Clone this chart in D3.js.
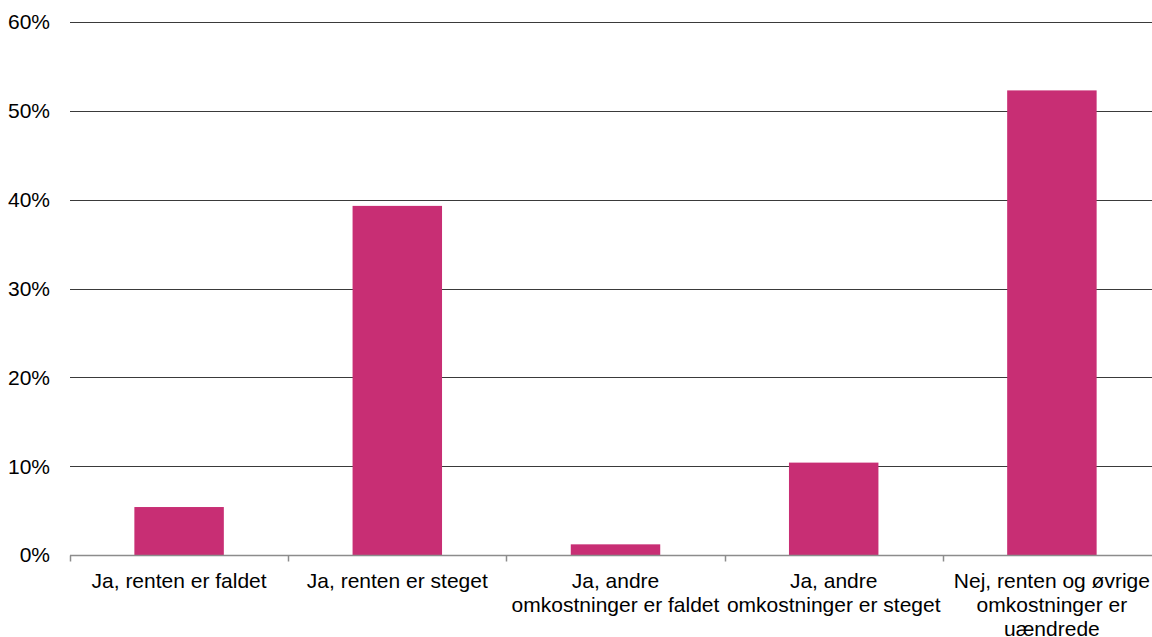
<!DOCTYPE html>
<html>
<head>
<meta charset="utf-8">
<script src="https://cdn.jsdelivr.net/npm/d3@7.9.0/dist/d3.min.js"></script>
<style>
  html, body { margin: 0; background: #fff; overflow: hidden; }
  svg { display: block; font-family: "Liberation Sans", Arial, sans-serif; overflow: hidden; }
</style>
</head>
<body>
<svg id="chart" width="1152" height="637"></svg>
<script>
// categories (label lines) and values in %
const categories = [
  ['Ja, renten er faldet'],
  ['Ja, renten er steget'],
  ['Ja, andre', 'omkostninger er faldet'],
  ['Ja, andre', 'omkostninger er steget'],
  ['Nej, renten og øvrige', 'omkostninger er', 'uændrede']
];
const values = [5.4, 39.3, 1.2, 10.4, 52.3];
const yTicks = [0, 10, 20, 30, 40, 50, 60];

const width = 1152, height = 637;
// plot area runs a little past the right edge of the picture
const plotRight = 1161;
const margin = { top: 22, bottom: 82, left: 70 };
const keys = categories.map((d, i) => i);

const svg = d3.select('#chart');

const x = d3.scaleBand()
  .domain(keys)
  .range([margin.left, plotRight])
  .paddingInner(0.59)
  .paddingOuter(0.295);

// plain bands for the category tick marks and labels
const xCat = d3.scaleBand()
  .domain(keys)
  .range([margin.left, plotRight])
  .padding(0);

const y = d3.scaleLinear()
  .domain([0, 60])
  .range([height - margin.bottom, margin.top]);

// gridlines
svg.append('g')
  .selectAll('line')
  .data(yTicks.filter(d => d > 0))
  .join('line')
  .attr('x1', margin.left)
  .attr('x2', plotRight)
  .attr('y1', d => Math.round(y(d)) + 0.5)
  .attr('y2', d => Math.round(y(d)) + 0.5)
  .attr('stroke', '#3a3a3a')
  .attr('stroke-width', 1);

// y tick labels
svg.append('g')
  .selectAll('text')
  .data(yTicks)
  .join('text')
  .attr('x', 50)
  .attr('y', d => y(d))
  .attr('dy', '0.35em')
  .attr('text-anchor', 'end')
  .attr('font-size', '21px')
  .attr('fill', '#000')
  .text(d => d + '%');

// bars
svg.append('g')
  .selectAll('rect')
  .data(values)
  .join('rect')
  .attr('x', (d, i) => x(i))
  .attr('y', d => y(d))
  .attr('width', x.bandwidth())
  .attr('height', d => y(0) - y(d))
  .attr('fill', '#c82e74');

// x axis baseline + ticks
const y0 = Math.round(y(0)) + 0.5;
svg.append('line')
  .attr('x1', margin.left)
  .attr('x2', plotRight)
  .attr('y1', y0)
  .attr('y2', y0)
  .attr('stroke', '#8c8c8c')
  .attr('stroke-width', 1.5);

svg.append('g')
  .selectAll('line')
  .data(keys)
  .join('line')
  .attr('x1', d => Math.round(xCat(d)) + 0.5)
  .attr('x2', d => Math.round(xCat(d)) + 0.5)
  .attr('y1', y0)
  .attr('y2', y0 + 6)
  .attr('stroke', '#8c8c8c')
  .attr('stroke-width', 1.5);

// category labels
const labels = svg.append('g')
  .selectAll('text')
  .data(keys)
  .join('text')
  .attr('x', d => xCat(d) + xCat.bandwidth() / 2)
  .attr('y', 588)
  .attr('text-anchor', 'middle')
  .attr('font-size', '21px')
  .attr('fill', '#000');

labels.selectAll('tspan')
  .data(d => categories[d])
  .join('tspan')
  .attr('x', function() { return d3.select(this.parentNode).attr('x'); })
  .attr('dy', (d, i) => i === 0 ? 0 : 24)
  .text(d => d);
</script>
</body>
</html>
